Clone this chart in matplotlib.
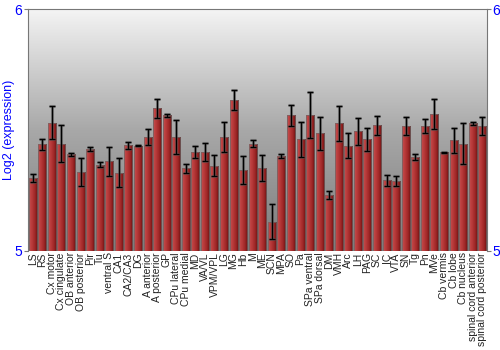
import numpy as np
import matplotlib
matplotlib.use('Agg')
import matplotlib.pyplot as plt
from matplotlib.colors import LinearSegmentedColormap

plt.rcParams['font.family'] = ['Liberation Sans', 'DejaVu Sans']

regions = ['LS', 'RS', 'Cx motor', 'Cx cingulate', 'OB anterior', 'OB posterior',
           'Pir', 'Tu', 'ventral S', 'CA1', 'CA2/CA3', 'DG', 'A anterior',
           'A posterior', 'GP', 'CPu lateral', 'CPu medial', 'MD', 'VA/VL',
           'VPM/VPL', 'LG', 'MG', 'Hb', 'M', 'ME', 'SCN', 'MPA', 'SO', 'Pa',
           'SPa ventral', 'SPa dorsal', 'DM', 'VMH', 'Arc', 'LH', 'PAG', 'SC',
           'IC', 'VTA', 'SN', 'Tg', 'Pn', 'MVe', 'Cb vermis', 'Cb lobe',
           'Cb nucleus', 'spinal cord anterior', 'spinal cord posterior']
values = [5.303, 5.441, 5.531, 5.443, 5.400, 5.326, 5.421, 5.357, 5.371, 5.324,
          5.437, 5.436, 5.472, 5.590, 5.561, 5.470, 5.341, 5.410, 5.410, 5.352,
          5.473, 5.623, 5.334, 5.443, 5.343, 5.121, 5.392, 5.561, 5.461, 5.561,
          5.486, 5.230, 5.527, 5.436, 5.495, 5.461, 5.519, 5.292, 5.288, 5.516,
          5.389, 5.517, 5.568, 5.408, 5.458, 5.444, 5.527, 5.516]
errors = [0.017, 0.023, 0.070, 0.076, 0.007, 0.059, 0.008, 0.009, 0.060, 0.061,
          0.014, 0.004, 0.033, 0.039, 0.007, 0.070, 0.019, 0.024, 0.037, 0.043,
          0.062, 0.041, 0.058, 0.015, 0.054, 0.072, 0.008, 0.044, 0.074, 0.095,
          0.067, 0.017, 0.074, 0.052, 0.055, 0.049, 0.041, 0.023, 0.020, 0.037,
          0.012, 0.030, 0.062, 0.002, 0.051, 0.083, 0.008, 0.037]

fig = plt.figure(figsize=(5, 3.5), dpi=100)
ax = fig.add_axes([0.056, 0.283, 0.918, 0.691])

n = len(regions)
x = np.arange(n)
ax.set_xlim(-0.5, n - 0.5)
ax.set_ylim(5, 6)

# background gradient
bg = LinearSegmentedColormap.from_list('bg', ['#7c7c7c', '#a8a8a8', '#f4f4f4'])
ax.imshow(np.linspace(0, 1, 256).reshape(-1, 1), cmap=bg, aspect='auto',
          extent=[-0.5, n - 0.5, 5, 6], origin='lower', zorder=0)

# bars with horizontal red gradient
barcm = LinearSegmentedColormap.from_list('bar', ['#c45050', '#b83a3a', '#a02828', '#6a1010'])
grad = np.linspace(0, 1, 64).reshape(1, -1)
bars = ax.bar(x, np.array(values) - 5, bottom=5, width=0.84, color='none',
              edgecolor='#6a6a6a', linewidth=0.5, zorder=2)
for b in bars:
    bx, by = b.get_x(), b.get_y()
    im = ax.imshow(grad, cmap=barcm, aspect='auto', zorder=1,
                   extent=[bx, bx + b.get_width(), by, by + b.get_height()])
    im.set_clip_path(b)

ax.errorbar(x, values, yerr=errors, fmt='none', ecolor='#555555', elinewidth=2.2,
            capsize=2.5, capthick=2.2, alpha=0.6, zorder=3)
ax.errorbar(x, values, yerr=errors, fmt='none', ecolor='black', elinewidth=0.9,
            capsize=2.2, capthick=0.9, zorder=4)

ax.set_xticks(x)
ax.set_xticklabels(regions, rotation=90, fontsize=7.5, color='#222222')
ax.tick_params(axis='x', length=0, pad=1)
ax.set_yticks([5, 6])
ax.tick_params(axis='y', colors='#777777', labelcolor='blue', labelsize=10,
               length=3, right=True, labelright=True, pad=1)
ax.set_ylabel('Log2 (expression)', color='blue', fontsize=9, labelpad=0)
for s in ax.spines.values():
    s.set_color('#777777')
ax.spines['bottom'].set_visible(False)

fig.savefig('out.png', dpi=100)
